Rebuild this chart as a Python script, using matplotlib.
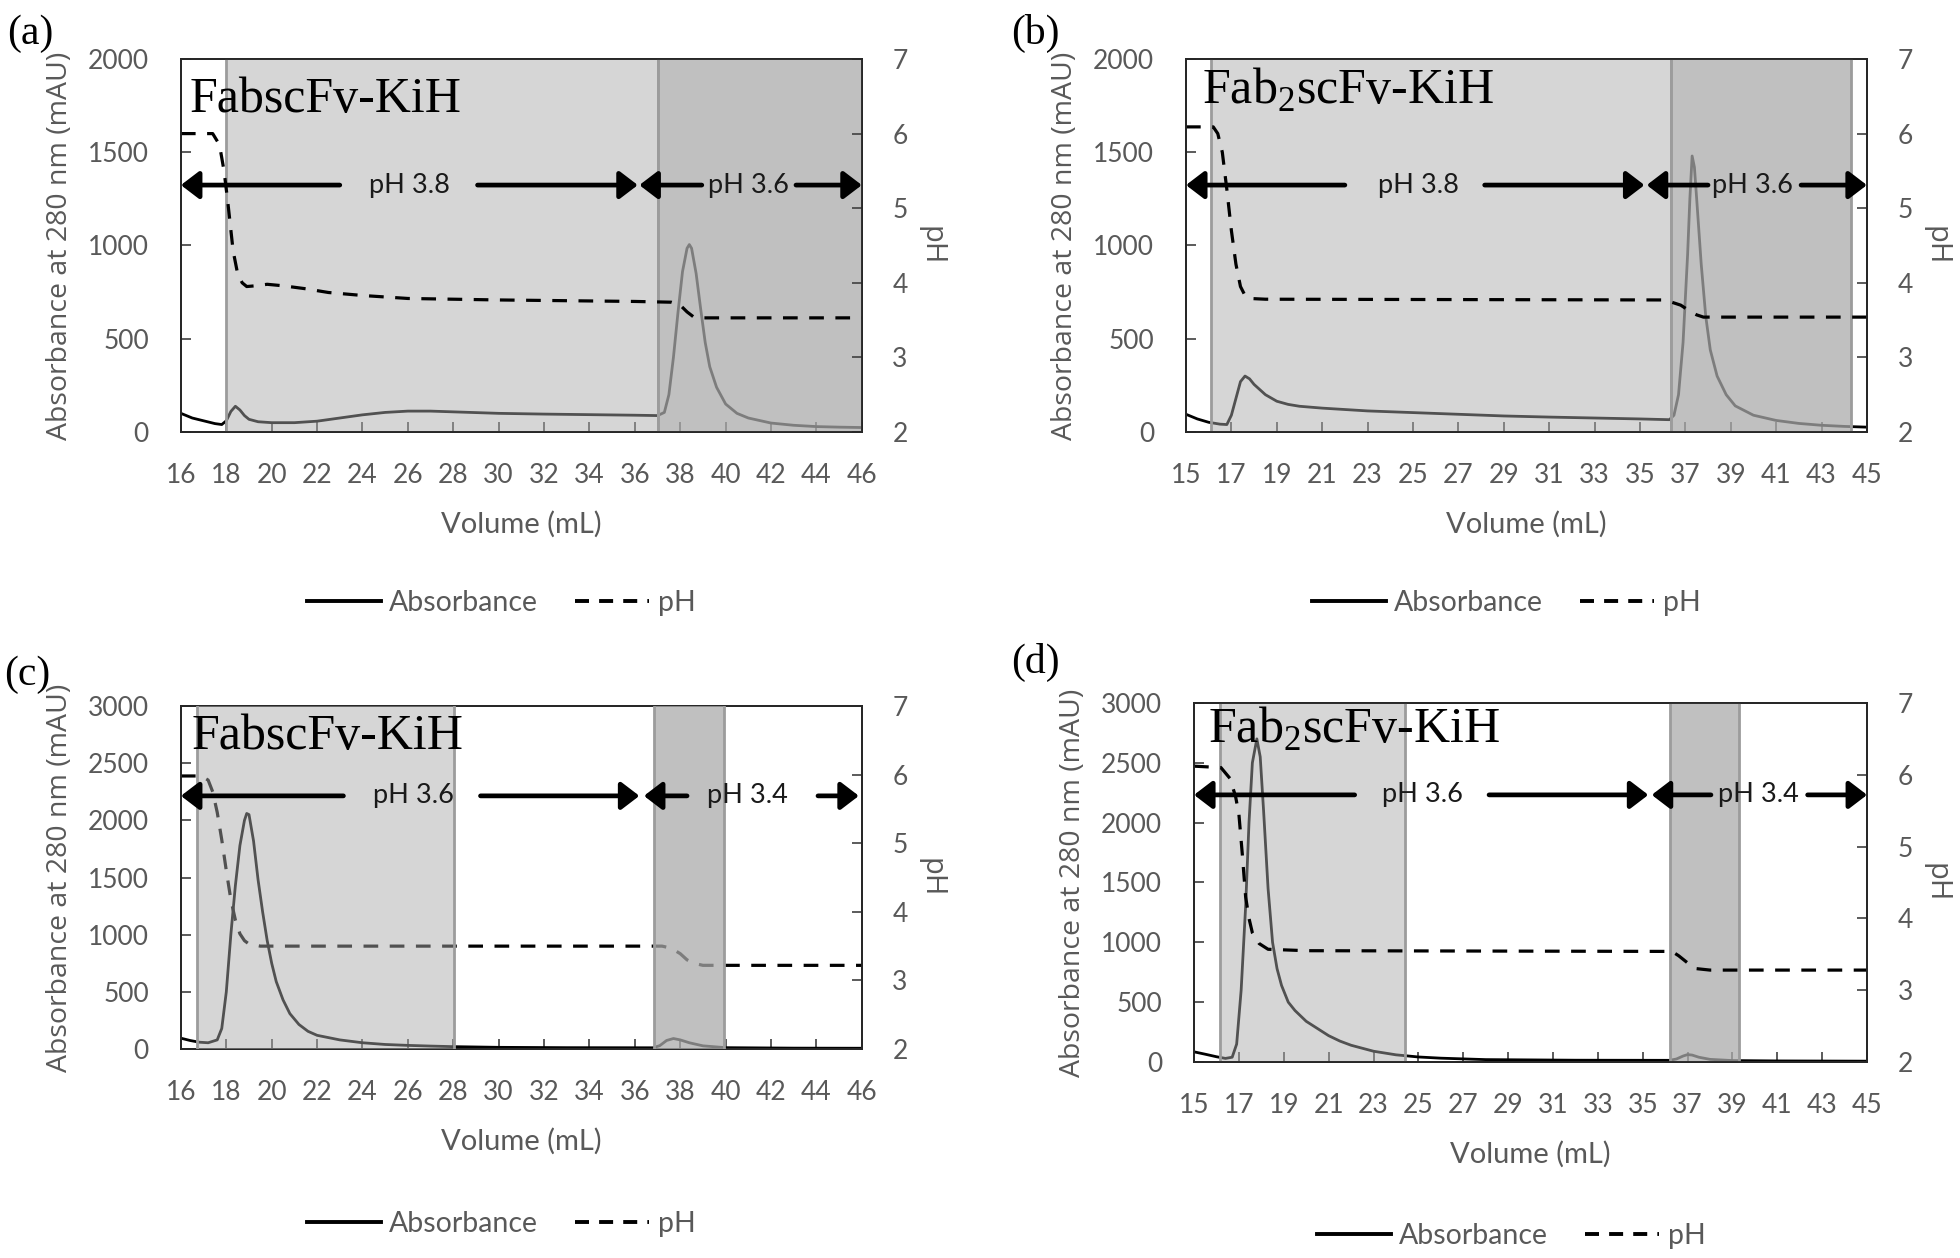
import matplotlib
matplotlib.use("Agg")
import matplotlib.pyplot as plt
from matplotlib.lines import Line2D

plt.rcParams["font.family"] = ["Lato", "DejaVu Sans"]

# ---- data ----
# (a) FabscFv-KiH, pH 3.8 / 3.6
vol_abs_a = [16, 16.5, 17, 17.5, 17.8, 18.0, 18.2, 18.4, 18.6, 18.8, 19.0, 19.4, 20, 21, 22, 23, 24, 25, 26,
             27, 28, 30, 32, 34, 36, 37.0, 37.3, 37.5, 37.7, 37.9, 38.1, 38.3, 38.4, 38.5, 38.7, 38.9, 39.1,
             39.3, 39.6, 40.0, 40.5, 41, 42, 43, 44, 45, 46]
abs_a = [100, 75, 60, 45, 40, 60, 110, 138, 118, 88, 68, 55, 50, 50, 58, 75, 92, 105, 112,
         112, 108, 100, 96, 93, 90, 88, 105, 200, 400, 640, 860, 985, 1005, 985, 850, 660, 480,
         350, 240, 150, 100, 75, 48, 36, 29, 26, 24]
vol_ph_a = [16, 17.4, 17.7, 17.9, 18.06, 18.3, 18.5, 18.7, 18.9, 19.3, 19.8, 20.5, 21.5, 22.5, 24, 26,
            30, 36, 37.6, 38.0, 38.3, 38.6, 39, 46]
ph_a = [6.0, 6.0, 5.85, 5.5, 5.1, 4.43, 4.12, 4.0, 3.95, 3.96, 3.98, 3.96, 3.92, 3.87, 3.83, 3.79,
        3.77, 3.75, 3.74, 3.70, 3.61, 3.54, 3.53, 3.53]

# (b) Fab2scFv-KiH, pH 3.8 / 3.6
vol_abs_b = [15, 15.5, 16, 16.5, 16.8, 17.0, 17.2, 17.4, 17.6, 17.8, 18.0, 18.5, 19, 19.5, 20, 21, 23,
             25, 27, 29, 31, 33, 35, 36.3, 36.5, 36.7, 36.9, 37.1, 37.2, 37.3, 37.4, 37.5, 37.7, 37.9,
             38.1, 38.4, 38.8, 39.2, 40, 41, 42, 43, 44, 45]
abs_b = [95, 70, 52, 42, 40, 90, 180, 270, 300, 285, 255, 200, 165, 148, 138, 128, 113,
         104, 95, 86, 80, 75, 70, 66, 90, 200, 480, 950, 1250, 1480, 1420, 1250, 900, 620,
         440, 300, 200, 140, 90, 62, 46, 36, 30, 26]
vol_ph_b = [15, 16.2, 16.4, 16.6, 16.8, 17.0, 17.2, 17.4, 17.6, 17.8, 18.5, 36.0, 36.4, 36.8, 37.2,
            37.5, 37.8, 45]
ph_b = [6.09, 6.09, 6.0, 5.75, 5.25, 4.7, 4.25, 3.95, 3.83, 3.79, 3.78, 3.77, 3.74, 3.70, 3.62,
        3.57, 3.54, 3.54]

# (c) FabscFv-KiH, pH 3.6 / 3.4
vol_abs_c = [16, 16.4, 16.8, 17.2, 17.6, 17.8, 18.0, 18.2, 18.4, 18.6, 18.8, 18.9, 19.0, 19.2, 19.4,
             19.6, 19.8, 20.0, 20.2, 20.5, 20.8, 21.2, 21.6, 22, 23, 24, 25, 26, 27, 28, 30, 33, 36.8,
             37.1, 37.4, 37.7, 38.0, 38.4, 39, 40, 43, 46]
abs_c = [95, 75, 60, 55, 80, 180, 500, 1000, 1430, 1780, 2000, 2060, 2050, 1820, 1480,
         1200, 950, 750, 590, 430, 310, 215, 155, 120, 80, 55, 40, 32, 26, 21, 15, 12, 11,
         30, 75, 92, 80, 55, 28, 12, 8, 7]
vol_ph_c = [16, 16.9, 17.2, 17.4, 17.6, 17.8, 18.0, 18.2, 18.4, 18.6, 18.8, 19.0, 19.5, 37.2, 37.6,
            38.0, 38.3, 38.6, 39.0, 46]
ph_c = [5.98, 5.98, 5.92, 5.75, 5.45, 5.05, 4.6, 4.18, 3.88, 3.68, 3.58, 3.53, 3.5, 3.5, 3.47,
        3.39, 3.3, 3.25, 3.22, 3.22]

# (d) Fab2scFv-KiH, pH 3.6 / 3.4
vol_abs_d = [15, 15.5, 16, 16.4, 16.7, 16.9, 17.1, 17.3, 17.45, 17.6, 17.8, 17.95, 18.1, 18.3, 18.5,
             18.7, 18.9, 19.2, 19.5, 20, 20.5, 21, 21.5, 22, 23, 24, 25, 26, 28, 32, 36.2, 36.5, 36.8,
             37.0, 37.2, 37.5, 38, 39, 41, 45]
abs_d = [85, 65, 44, 30, 40, 150, 600, 1300, 2000, 2500, 2700, 2550, 2100, 1450, 1000,
         780, 640, 500, 430, 340, 280, 220, 175, 140, 90, 60, 42, 32, 20, 15, 14, 25, 50,
         62, 58, 40, 22, 12, 9, 7]
vol_ph_d = [15, 16.2, 16.6, 16.85, 17.0, 17.15, 17.3, 17.45, 17.6, 17.9, 18.3, 20, 36.3, 36.6, 37.0,
            37.4, 38, 45]
ph_d = [6.12, 6.1, 5.95, 5.7, 5.45, 4.9, 4.3, 4.0, 3.8, 3.65, 3.57, 3.55, 3.54, 3.48, 3.38,
        3.30, 3.28, 3.28]

# collected fractions (light = first step, dark = second step)
light_a, dark_a = (18, 37), (37, 46)
light_b, dark_b = (16.1, 36.35), (36.35, 44.3)
light_c, dark_c = (16.7, 28.05), (36.86, 39.95)
light_d, dark_d = (16.17, 24.39), (36.23, 39.29)

GRAY = "#595959"
SPINE = "#262626"

fig = plt.figure(figsize=(19.6, 12.58), dpi=100)


def panel(rect, vol_abs, absorb, vol_ph, ph, xlim, ymax, light, dark, arrow_y, arrows,
          name, name_pos, tag, tag_pos, leg_pos, shade_top=False):
    ax = fig.add_axes(rect)
    ax.set_xlim(*xlim)
    ax.set_ylim(0, ymax)
    ax.plot(vol_abs, absorb, color="black", lw=2.0, zorder=2)

    ax2 = ax.twinx()
    ax2.set_ylim(2, 7)
    ax2.plot(vol_ph, ph, color="black", lw=2.3, ls=(0, (4.6, 3.6)), zorder=2)

    target = ax2 if shade_top else ax
    for (x0, x1), a in ((light, 0.48), (dark, 0.74)):
        target.axvspan(x0, x1, color="#aaaaaa", alpha=a, lw=0, zorder=3)
        for xe in (x0, x1):
            if xlim[0] < xe < xlim[1]:
                target.axvline(xe, color="#9c9c9c", lw=2, zorder=3)

    # pH step arrows
    for left, g0, tx, g1, right, label in arrows:
        kw = dict(arrowstyle="-|>,head_length=0.55,head_width=0.42", lw=3.4, color="black",
                  mutation_scale=20, shrinkA=0, shrinkB=0)
        ax2.annotate("", xy=(left, arrow_y), xytext=(g0, arrow_y), arrowprops=kw, zorder=6)
        ax2.annotate("", xy=(right, arrow_y), xytext=(g1, arrow_y), arrowprops=kw, zorder=6)
        ax2.text(tx, arrow_y, label, ha="center", va="center", fontsize=19.5, color="#1a1a1a", zorder=6)

    ax2.text(name_pos[0], name_pos[1], name, transform=ax.transAxes, fontsize=36,
             family="Liberation Serif", ha="left", va="baseline", zorder=5)

    ax.set_xticks(range(xlim[0], xlim[1] + 1, 2))
    ax.set_yticks(range(0, ymax + 1, 500))
    ax2.set_yticks(range(2, 8))
    ax.tick_params(axis="x", direction="in", length=7, width=1.2, pad=22, labelsize=19,
                   labelcolor=GRAY, color="#404040")
    ax.tick_params(axis="y", direction="in", length=7, width=1.2, pad=23, labelsize=19,
                   labelcolor=GRAY, color="#404040")
    ax2.tick_params(axis="y", direction="in", length=7, width=1.2, pad=22, labelsize=19,
                    labelcolor=GRAY, color="#404040")
    for a in (ax, ax2):
        for sp in a.spines.values():
            sp.set_color(SPINE)
            sp.set_linewidth(1.3)

    ax.set_xlabel("Volume (mL)", fontsize=21, color=GRAY, labelpad=17)
    ax.set_ylabel("Absorbance at 280 nm (mAU)", fontsize=20.5, color=GRAY, labelpad=10,
                  family=["Open Sans", "DejaVu Sans"])
    ax2.set_ylabel("pH", fontsize=21, color=GRAY, rotation=270, va="bottom", labelpad=6,
                   family=["Open Sans", "DejaVu Sans"])

    fig.text(tag_pos[0], tag_pos[1], tag, fontsize=30, family="Liberation Serif",
             ha="left", va="center")

    handles = [Line2D([], [], color="black", lw=2.8),
               Line2D([], [], color="black", lw=2.8, ls=(0, (3.6, 2.6)))]
    fig.legend(handles, ["Absorbance", "pH"], loc="center", bbox_to_anchor=leg_pos, ncol=2,
               frameon=False, fontsize=20.5, labelcolor=GRAY, handlelength=2.6,
               handletextpad=0.3, columnspacing=1.3)


fab = "FabscFv-KiH"
fab2 = r"Fab$_\mathregular{2}$scFv-KiH"

panel([0.0923, 0.6566, 0.3474, 0.2965], vol_abs_a, abs_a, vol_ph_a, ph_a, (16, 46), 2000,
      light_a, dark_a, 5.31,
      [(16, 23.0, 26.05, 29.07, 36.13, "pH 3.8"), (36.2, 38.95, 41.0, 43.1, 46, "pH 3.6")],
      fab, (0.013, 0.858), "(a)", (0.0036, 0.973), (0.2556, 0.5207))

panel([0.6051, 0.6566, 0.3474, 0.2965], vol_abs_b, abs_b, vol_ph_b, ph_b, (15, 45), 2000,
      light_b, dark_b, 5.31,
      [(15, 22.0, 25.25, 28.16, 35.2, "pH 3.8"), (35.3, 38.0, 39.95, 42.1, 45, "pH 3.6")],
      fab2, (0.023, 0.879), "(b)", (0.516, 0.973), (0.7684, 0.5207))

panel([0.0923, 0.1661, 0.3474, 0.2727], vol_abs_c, abs_c, vol_ph_c, ph_c, (16, 46), 3000,
      light_c, dark_c, 5.69,
      [(16, 23.16, 26.25, 29.2, 36.2, "pH 3.6"), (36.4, 38.3, 40.95, 44.07, 45.87, "pH 3.4")],
      fab, (0.015, 0.876), "(c)", (0.002, 0.464), (0.2556, 0.027), shade_top=True)

panel([0.6092, 0.1558, 0.3434, 0.2854], vol_abs_d, abs_d, vol_ph_d, ph_d, (15, 45), 3000,
      light_d, dark_d, 5.72,
      [(15, 22.16, 25.2, 28.15, 35.25, "pH 3.6"), (35.4, 38.04, 40.15, 42.35, 45, "pH 3.4")],
      fab2, (0.021, 0.889), "(d)", (0.516, 0.473), (0.7709, 0.0175))

fig.savefig("out.png", dpi=100)
